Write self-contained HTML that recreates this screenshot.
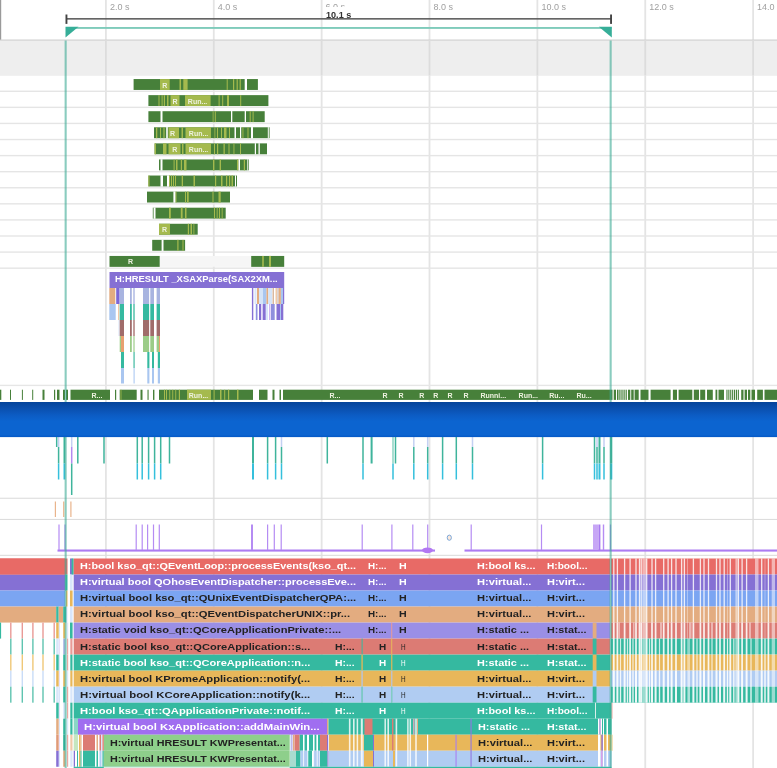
<!DOCTYPE html>
<html><head><meta charset="utf-8"><title>trace</title>
<style>
html,body{margin:0;padding:0;background:#fff}
#r{position:relative;width:777px;height:768px;overflow:hidden;background:#fff;font-family:"Liberation Sans",sans-serif}
#q{position:absolute;left:-12px;top:-12px;width:801px;height:792px;filter:blur(.7px)}
#p{position:absolute;left:12px;top:12px;width:777px;height:768px}
#q svg{position:absolute;left:-12px;top:-12px}
#r .t{position:absolute;display:block;white-space:pre;font-weight:700;overflow:visible}
#r .c{transform:translateX(-50%)}
</style></head><body><div id="r"><div id="q"><div id="p">
<svg width="801" height="792" viewBox="-12 -12 801 792"><defs><linearGradient id="bg" x1="0" y1="0" x2="0" y2="1"><stop offset="0" stop-color="#04439a"/><stop offset=".18" stop-color="#0a4fae"/><stop offset=".38" stop-color="#0c5cc4"/><stop offset=".55" stop-color="#0c64d0"/><stop offset=".93" stop-color="#0c64d0"/><stop offset="1" stop-color="#0458c6"/></linearGradient></defs>
<rect x="105.00" y="-12.00" width="1.80" height="792.00" fill="#e4e4e4"/>
<rect x="212.87" y="-12.00" width="1.80" height="792.00" fill="#e4e4e4"/>
<rect x="320.74" y="-12.00" width="1.80" height="792.00" fill="#e4e4e4"/>
<rect x="428.61" y="-12.00" width="1.80" height="792.00" fill="#e4e4e4"/>
<rect x="536.48" y="-12.00" width="1.80" height="792.00" fill="#e4e4e4"/>
<rect x="644.35" y="-12.00" width="1.80" height="792.00" fill="#e4e4e4"/>
<rect x="752.22" y="-12.00" width="1.80" height="792.00" fill="#e4e4e4"/>
<rect x="-12.00" y="-12.00" width="13.20" height="52.00" fill="#9a9a9a"/>
<rect x="66.00" y="18.10" width="545.50" height="1.50" fill="#555"/>
<rect x="65.50" y="14.50" width="1.90" height="9.40" fill="#444"/>
<rect x="610.10" y="14.50" width="1.90" height="9.40" fill="#444"/>
<rect x="66.00" y="27.00" width="545.50" height="1.90" fill="#7fcbbb"/>
<path d="M65.5 26.8H78.5L65.5 37.6Z" fill="#36ae98"/><path d="M611.8 26.8H598.8L611.8 37.6Z" fill="#36ae98"/>
<rect x="-12.00" y="40.00" width="801.00" height="35.80" fill="#eeeeee"/>
<rect x="-12.00" y="39.50" width="801.00" height="1.10" fill="#d0d0d0"/>
<rect x="105.00" y="40.00" width="1.80" height="35.50" fill="#dcdcdc"/>
<rect x="212.87" y="40.00" width="1.80" height="35.50" fill="#dcdcdc"/>
<rect x="320.74" y="40.00" width="1.80" height="35.50" fill="#dcdcdc"/>
<rect x="428.61" y="40.00" width="1.80" height="35.50" fill="#dcdcdc"/>
<rect x="536.48" y="40.00" width="1.80" height="35.50" fill="#dcdcdc"/>
<rect x="644.35" y="40.00" width="1.80" height="35.50" fill="#dcdcdc"/>
<rect x="752.22" y="40.00" width="1.80" height="35.50" fill="#dcdcdc"/>
<rect x="-12.00" y="90.58" width="801.00" height="1.40" fill="#e5e5e5"/>
<rect x="-12.00" y="106.66" width="801.00" height="1.40" fill="#e5e5e5"/>
<rect x="-12.00" y="122.74" width="801.00" height="1.40" fill="#e5e5e5"/>
<rect x="-12.00" y="138.82" width="801.00" height="1.40" fill="#e5e5e5"/>
<rect x="-12.00" y="154.90" width="801.00" height="1.40" fill="#e5e5e5"/>
<rect x="-12.00" y="170.98" width="801.00" height="1.40" fill="#e5e5e5"/>
<rect x="-12.00" y="187.06" width="801.00" height="1.40" fill="#e5e5e5"/>
<rect x="-12.00" y="203.14" width="801.00" height="1.40" fill="#e5e5e5"/>
<rect x="-12.00" y="219.22" width="801.00" height="1.40" fill="#e5e5e5"/>
<rect x="-12.00" y="235.30" width="801.00" height="1.40" fill="#e5e5e5"/>
<rect x="-12.00" y="251.38" width="801.00" height="1.40" fill="#e5e5e5"/>
<rect x="-12.00" y="267.46" width="801.00" height="1.40" fill="#e5e5e5"/>
<rect x="-12.00" y="384.70" width="801.00" height="1.40" fill="#e6e6e6"/>
<rect x="133.60" y="79.05" width="124.30" height="10.90" fill="#47803a"/>
<rect x="160.00" y="79.05" width="9.70" height="10.90" fill="#a5ba4e"/>
<rect x="179.50" y="79.05" width="1.50" height="10.90" fill="#a5ba4e"/>
<rect x="183.30" y="79.05" width="4.30" height="10.90" fill="#a5ba4e"/>
<rect x="226.70" y="79.05" width="1.00" height="10.90" fill="#a5ba4e"/>
<rect x="233.00" y="79.05" width="1.20" height="10.90" fill="#a5ba4e"/>
<rect x="236.60" y="79.05" width="1.20" height="10.90" fill="#a5ba4e"/>
<rect x="239.60" y="79.05" width="1.20" height="10.90" fill="#a5ba4e"/>
<rect x="244.70" y="78.85" width="2.30" height="11.30" fill="#ffffff"/>
<rect x="148.40" y="95.13" width="120.00" height="10.90" fill="#47803a"/>
<rect x="158.50" y="95.13" width="1.00" height="10.90" fill="#a5ba4e"/>
<rect x="161.60" y="95.13" width="1.00" height="10.90" fill="#a5ba4e"/>
<rect x="163.80" y="95.13" width="1.20" height="10.90" fill="#a5ba4e"/>
<rect x="167.00" y="95.13" width="1.50" height="10.90" fill="#a5ba4e"/>
<rect x="170.50" y="95.13" width="9.00" height="10.90" fill="#a5ba4e"/>
<rect x="185.00" y="95.13" width="25.60" height="10.90" fill="#a5ba4e"/>
<rect x="218.60" y="95.13" width="1.00" height="10.90" fill="#a5ba4e"/>
<rect x="222.20" y="95.13" width="1.00" height="10.90" fill="#a5ba4e"/>
<rect x="227.00" y="95.13" width="2.00" height="10.90" fill="#a5ba4e"/>
<rect x="240.20" y="95.13" width="1.00" height="10.90" fill="#a5ba4e"/>
<rect x="148.40" y="111.21" width="116.30" height="10.90" fill="#47803a"/>
<rect x="212.70" y="111.21" width="0.80" height="10.90" fill="#a5ba4e"/>
<rect x="214.80" y="111.21" width="1.00" height="10.90" fill="#a5ba4e"/>
<rect x="249.70" y="111.21" width="1.00" height="10.90" fill="#a5ba4e"/>
<rect x="252.60" y="111.21" width="1.00" height="10.90" fill="#a5ba4e"/>
<rect x="160.50" y="111.01" width="2.00" height="11.30" fill="#ffffff"/>
<rect x="231.00" y="111.01" width="1.30" height="11.30" fill="#ffffff"/>
<rect x="244.70" y="111.01" width="1.30" height="11.30" fill="#ffffff"/>
<rect x="154.00" y="127.29" width="115.60" height="10.90" fill="#47803a"/>
<rect x="156.00" y="127.29" width="1.30" height="10.90" fill="#a5ba4e"/>
<rect x="160.00" y="127.29" width="1.00" height="10.90" fill="#a5ba4e"/>
<rect x="163.40" y="127.29" width="1.20" height="10.90" fill="#a5ba4e"/>
<rect x="168.50" y="127.29" width="10.50" height="10.90" fill="#a5ba4e"/>
<rect x="181.50" y="127.29" width="1.50" height="10.90" fill="#a5ba4e"/>
<rect x="185.50" y="127.29" width="25.50" height="10.90" fill="#a5ba4e"/>
<rect x="214.50" y="127.29" width="0.80" height="10.90" fill="#a5ba4e"/>
<rect x="217.00" y="127.29" width="1.00" height="10.90" fill="#a5ba4e"/>
<rect x="221.00" y="127.29" width="1.00" height="10.90" fill="#a5ba4e"/>
<rect x="224.00" y="127.29" width="2.50" height="10.90" fill="#a5ba4e"/>
<rect x="229.00" y="127.29" width="1.00" height="10.90" fill="#a5ba4e"/>
<rect x="242.50" y="127.29" width="0.90" height="10.90" fill="#a5ba4e"/>
<rect x="247.50" y="127.29" width="1.00" height="10.90" fill="#a5ba4e"/>
<rect x="166.20" y="127.09" width="1.60" height="11.30" fill="#ffffff"/>
<rect x="234.50" y="127.09" width="1.50" height="11.30" fill="#ffffff"/>
<rect x="240.00" y="127.09" width="1.20" height="11.30" fill="#ffffff"/>
<rect x="251.00" y="127.09" width="2.00" height="11.30" fill="#ffffff"/>
<rect x="267.80" y="127.09" width="1.00" height="11.30" fill="#ffffff"/>
<rect x="154.60" y="143.37" width="112.40" height="10.90" fill="#47803a"/>
<rect x="154.60" y="143.37" width="1.40" height="10.90" fill="#a5ba4e"/>
<rect x="163.00" y="143.37" width="3.50" height="10.90" fill="#a5ba4e"/>
<rect x="168.50" y="143.37" width="12.00" height="10.90" fill="#a5ba4e"/>
<rect x="182.00" y="143.37" width="1.50" height="10.90" fill="#a5ba4e"/>
<rect x="185.50" y="143.37" width="25.50" height="10.90" fill="#a5ba4e"/>
<rect x="214.00" y="143.37" width="1.00" height="10.90" fill="#a5ba4e"/>
<rect x="217.00" y="143.37" width="1.20" height="10.90" fill="#a5ba4e"/>
<rect x="223.50" y="143.37" width="1.30" height="10.90" fill="#a5ba4e"/>
<rect x="228.50" y="143.37" width="1.00" height="10.90" fill="#a5ba4e"/>
<rect x="233.50" y="143.37" width="0.90" height="10.90" fill="#a5ba4e"/>
<rect x="240.00" y="143.37" width="1.00" height="10.90" fill="#a5ba4e"/>
<rect x="254.80" y="143.17" width="1.20" height="11.30" fill="#ffffff"/>
<rect x="258.50" y="143.17" width="1.30" height="11.30" fill="#ffffff"/>
<rect x="159.00" y="159.45" width="89.70" height="10.90" fill="#47803a"/>
<rect x="173.60" y="159.45" width="1.00" height="10.90" fill="#a5ba4e"/>
<rect x="176.00" y="159.45" width="1.50" height="10.90" fill="#a5ba4e"/>
<rect x="180.80" y="159.45" width="1.20" height="10.90" fill="#a5ba4e"/>
<rect x="184.00" y="159.45" width="2.50" height="10.90" fill="#a5ba4e"/>
<rect x="213.00" y="159.45" width="1.40" height="10.90" fill="#a5ba4e"/>
<rect x="219.60" y="159.45" width="1.40" height="10.90" fill="#a5ba4e"/>
<rect x="237.00" y="159.45" width="1.50" height="10.90" fill="#a5ba4e"/>
<rect x="243.80" y="159.45" width="1.20" height="10.90" fill="#a5ba4e"/>
<rect x="160.50" y="159.25" width="2.00" height="11.30" fill="#ffffff"/>
<rect x="238.50" y="159.25" width="1.50" height="11.30" fill="#ffffff"/>
<rect x="247.30" y="159.25" width="0.70" height="11.30" fill="#ffffff"/>
<rect x="148.40" y="175.53" width="88.60" height="10.90" fill="#47803a"/>
<rect x="148.40" y="175.53" width="1.10" height="10.90" fill="#a5ba4e"/>
<rect x="181.70" y="175.53" width="1.30" height="10.90" fill="#a5ba4e"/>
<rect x="193.50" y="175.53" width="1.50" height="10.90" fill="#a5ba4e"/>
<rect x="215.00" y="175.53" width="1.20" height="10.90" fill="#a5ba4e"/>
<rect x="221.00" y="175.53" width="1.50" height="10.90" fill="#a5ba4e"/>
<rect x="226.00" y="175.53" width="1.20" height="10.90" fill="#a5ba4e"/>
<rect x="229.00" y="175.53" width="1.20" height="10.90" fill="#a5ba4e"/>
<rect x="231.50" y="175.53" width="1.50" height="10.90" fill="#a5ba4e"/>
<rect x="169.00" y="175.53" width="1.00" height="10.90" fill="#a5ba4e"/>
<rect x="171.00" y="175.53" width="1.00" height="10.90" fill="#a5ba4e"/>
<rect x="173.00" y="175.53" width="1.00" height="10.90" fill="#a5ba4e"/>
<rect x="175.00" y="175.53" width="1.00" height="10.90" fill="#a5ba4e"/>
<rect x="160.50" y="175.33" width="2.50" height="11.30" fill="#ffffff"/>
<rect x="167.00" y="175.33" width="2.00" height="11.30" fill="#ffffff"/>
<rect x="235.00" y="175.33" width="1.00" height="11.30" fill="#ffffff"/>
<rect x="147.00" y="191.61" width="83.00" height="10.90" fill="#47803a"/>
<rect x="175.40" y="191.61" width="1.10" height="10.90" fill="#a5ba4e"/>
<rect x="185.00" y="191.61" width="1.00" height="10.90" fill="#a5ba4e"/>
<rect x="187.00" y="191.61" width="1.70" height="10.90" fill="#a5ba4e"/>
<rect x="212.50" y="191.61" width="1.00" height="10.90" fill="#a5ba4e"/>
<rect x="218.50" y="191.61" width="2.20" height="10.90" fill="#a5ba4e"/>
<rect x="173.40" y="191.41" width="2.00" height="11.30" fill="#ffffff"/>
<rect x="152.80" y="207.69" width="72.90" height="10.90" fill="#47803a"/>
<rect x="169.00" y="207.69" width="1.80" height="10.90" fill="#a5ba4e"/>
<rect x="180.80" y="207.69" width="1.80" height="10.90" fill="#a5ba4e"/>
<rect x="185.00" y="207.69" width="1.50" height="10.90" fill="#a5ba4e"/>
<rect x="214.00" y="207.69" width="1.00" height="10.90" fill="#a5ba4e"/>
<rect x="216.70" y="207.69" width="0.90" height="10.90" fill="#a5ba4e"/>
<rect x="219.00" y="207.69" width="1.00" height="10.90" fill="#a5ba4e"/>
<rect x="221.70" y="207.69" width="0.90" height="10.90" fill="#a5ba4e"/>
<rect x="153.60" y="207.49" width="1.90" height="11.30" fill="#ffffff"/>
<rect x="159.00" y="223.77" width="38.70" height="10.90" fill="#47803a"/>
<rect x="159.00" y="223.77" width="11.00" height="10.90" fill="#a5ba4e"/>
<rect x="187.80" y="223.77" width="1.20" height="10.90" fill="#a5ba4e"/>
<rect x="190.50" y="223.77" width="1.50" height="10.90" fill="#a5ba4e"/>
<rect x="193.50" y="223.77" width="0.80" height="10.90" fill="#a5ba4e"/>
<rect x="152.20" y="239.85" width="32.90" height="10.90" fill="#47803a"/>
<rect x="177.30" y="239.85" width="1.20" height="10.90" fill="#a5ba4e"/>
<rect x="182.50" y="239.85" width="1.00" height="10.90" fill="#a5ba4e"/>
<rect x="161.60" y="239.65" width="1.90" height="11.30" fill="#ffffff"/>
<rect x="159.70" y="256.00" width="91.50" height="10.80" fill="#f6f6f6"/>
<rect x="109.50" y="255.95" width="50.20" height="10.90" fill="#47803a"/>
<rect x="251.20" y="255.95" width="33.00" height="10.90" fill="#47803a"/>
<rect x="262.20" y="255.95" width="1.60" height="10.90" fill="#a5ba4e"/>
<rect x="269.00" y="255.95" width="2.00" height="10.90" fill="#a5ba4e"/>
<rect x="109.50" y="272.00" width="174.70" height="16.00" fill="#8570d4"/>
<rect x="109.30" y="288.00" width="6.00" height="16.00" fill="#e3ac80"/>
<rect x="116.20" y="288.00" width="3.40" height="16.00" fill="#7b66d6"/>
<rect x="119.70" y="288.00" width="4.30" height="16.00" fill="#a8b4e0"/>
<rect x="130.00" y="288.00" width="1.80" height="16.00" fill="#a8b4e0"/>
<rect x="133.00" y="288.00" width="2.00" height="16.00" fill="#c3cbea"/>
<rect x="143.00" y="288.00" width="6.10" height="16.00" fill="#a8b4e0"/>
<rect x="150.30" y="288.00" width="3.70" height="16.00" fill="#a8b4e0"/>
<rect x="156.60" y="288.00" width="3.40" height="16.00" fill="#a8b4e0"/>
<rect x="109.30" y="304.00" width="6.40" height="16.00" fill="#a9c6f0"/>
<rect x="118.00" y="304.00" width="1.20" height="16.00" fill="#f0c9a8"/>
<rect x="119.70" y="304.00" width="4.30" height="16.00" fill="#35b9a0"/>
<rect x="130.00" y="304.00" width="1.80" height="16.00" fill="#35b9a0"/>
<rect x="133.00" y="304.00" width="2.00" height="16.00" fill="#7fd0c0"/>
<rect x="143.00" y="304.00" width="6.10" height="16.00" fill="#35b9a0"/>
<rect x="150.30" y="304.00" width="3.70" height="16.00" fill="#35b9a0"/>
<rect x="156.60" y="304.00" width="3.40" height="16.00" fill="#35b9a0"/>
<rect x="118.50" y="320.00" width="1.00" height="16.00" fill="#d9e6fa"/>
<rect x="119.70" y="320.00" width="4.30" height="16.00" fill="#a06c6a"/>
<rect x="130.00" y="320.00" width="1.80" height="16.00" fill="#a06c6a"/>
<rect x="133.00" y="320.00" width="2.00" height="16.00" fill="#c29c9a"/>
<rect x="143.00" y="320.00" width="6.10" height="16.00" fill="#a06c6a"/>
<rect x="150.30" y="320.00" width="3.70" height="16.00" fill="#a06c6a"/>
<rect x="156.60" y="320.00" width="3.40" height="16.00" fill="#a06c6a"/>
<rect x="119.70" y="336.00" width="1.30" height="16.00" fill="#9ccc88"/>
<rect x="121.00" y="336.00" width="3.00" height="16.00" fill="#e8a070"/>
<rect x="130.00" y="336.00" width="1.80" height="16.00" fill="#9ccc88"/>
<rect x="133.00" y="336.00" width="2.00" height="16.00" fill="#c4e0b8"/>
<rect x="143.00" y="336.00" width="6.10" height="16.00" fill="#9ccc88"/>
<rect x="150.30" y="336.00" width="3.70" height="16.00" fill="#9ccc88"/>
<rect x="156.60" y="336.00" width="2.40" height="16.00" fill="#9ccc88"/>
<rect x="159.00" y="336.00" width="1.00" height="16.00" fill="#e8a070"/>
<rect x="121.00" y="352.00" width="3.00" height="16.00" fill="#35b9a0"/>
<rect x="133.20" y="352.00" width="1.80" height="16.00" fill="#7fd0c0"/>
<rect x="147.30" y="352.00" width="2.10" height="16.00" fill="#35b9a0"/>
<rect x="152.00" y="352.00" width="2.00" height="16.00" fill="#35b9a0"/>
<rect x="157.80" y="352.00" width="2.20" height="16.00" fill="#35b9a0"/>
<rect x="121.00" y="368.00" width="3.00" height="15.50" fill="#a9c6f0"/>
<rect x="133.30" y="368.00" width="1.70" height="15.50" fill="#c9dcf7"/>
<rect x="147.30" y="368.00" width="2.10" height="15.50" fill="#a9c6f0"/>
<rect x="152.00" y="368.00" width="2.00" height="15.50" fill="#a9c6f0"/>
<rect x="157.80" y="368.00" width="2.20" height="15.50" fill="#a9c6f0"/>
<rect x="251.90" y="288.00" width="1.40" height="16.00" fill="#8570d4"/>
<rect x="254.50" y="288.00" width="2.00" height="16.00" fill="#d9e6fa"/>
<rect x="257.00" y="288.00" width="2.00" height="16.00" fill="#e3ac80"/>
<rect x="259.00" y="288.00" width="4.00" height="16.00" fill="#d5e4f8"/>
<rect x="263.00" y="288.00" width="3.50" height="16.00" fill="#a9c6f0"/>
<rect x="266.50" y="288.00" width="1.80" height="16.00" fill="#e3ac80"/>
<rect x="268.30" y="288.00" width="3.70" height="16.00" fill="#d5e4f8"/>
<rect x="272.50" y="288.00" width="1.50" height="16.00" fill="#d8b8a0"/>
<rect x="275.50" y="288.00" width="1.90" height="16.00" fill="#f0c9a8"/>
<rect x="277.40" y="288.00" width="1.20" height="16.00" fill="#c8c8d0"/>
<rect x="278.60" y="288.00" width="2.30" height="16.00" fill="#e3ac80"/>
<rect x="280.90" y="288.00" width="2.10" height="16.00" fill="#a9c6f0"/>
<rect x="283.00" y="288.00" width="1.20" height="16.00" fill="#8570d4"/>
<rect x="251.90" y="304.00" width="1.40" height="16.00" fill="#8570d4"/>
<rect x="255.30" y="304.00" width="0.70" height="16.00" fill="#d9e6fa"/>
<rect x="256.00" y="304.00" width="1.50" height="16.00" fill="#8f8fe0"/>
<rect x="259.00" y="304.00" width="2.00" height="16.00" fill="#8570d4"/>
<rect x="261.00" y="304.00" width="1.80" height="16.00" fill="#e4dcf8"/>
<rect x="262.80" y="304.00" width="2.90" height="16.00" fill="#8570d4"/>
<rect x="266.00" y="304.00" width="2.00" height="16.00" fill="#d9e6fa"/>
<rect x="269.00" y="304.00" width="1.50" height="16.00" fill="#cdb6f5"/>
<rect x="271.00" y="304.00" width="3.70" height="16.00" fill="#8f8fdd"/>
<rect x="276.50" y="304.00" width="3.50" height="16.00" fill="#8570d4"/>
<rect x="280.00" y="304.00" width="1.00" height="16.00" fill="#a9c6f0"/>
<rect x="281.00" y="304.00" width="2.30" height="16.00" fill="#8570d4"/>
<rect x="-12.00" y="389.70" width="13.30" height="10.20" fill="#47803a"/>
<rect x="10.00" y="389.70" width="1.00" height="10.20" fill="#47803a"/>
<rect x="21.90" y="389.70" width="1.00" height="10.20" fill="#47803a"/>
<rect x="32.20" y="389.70" width="1.00" height="10.20" fill="#47803a"/>
<rect x="42.50" y="389.70" width="2.00" height="10.20" fill="#47803a"/>
<rect x="54.00" y="389.70" width="1.20" height="10.20" fill="#47803a"/>
<rect x="57.00" y="389.70" width="2.50" height="10.20" fill="#47803a"/>
<rect x="63.00" y="389.70" width="2.00" height="10.20" fill="#47803a"/>
<rect x="66.00" y="389.70" width="2.00" height="10.20" fill="#47803a"/>
<rect x="70.50" y="389.70" width="39.50" height="10.20" fill="#47803a"/>
<rect x="115.00" y="389.70" width="1.20" height="10.20" fill="#47803a"/>
<rect x="119.70" y="389.70" width="17.00" height="10.20" fill="#47803a"/>
<rect x="140.50" y="389.70" width="2.00" height="10.20" fill="#47803a"/>
<rect x="147.50" y="389.70" width="1.10" height="10.20" fill="#47803a"/>
<rect x="153.00" y="389.70" width="1.40" height="10.20" fill="#47803a"/>
<rect x="159.00" y="389.70" width="94.00" height="10.20" fill="#47803a"/>
<rect x="259.00" y="389.70" width="8.50" height="10.20" fill="#47803a"/>
<rect x="272.50" y="389.70" width="2.00" height="10.20" fill="#47803a"/>
<rect x="279.50" y="389.70" width="1.50" height="10.20" fill="#47803a"/>
<rect x="283.00" y="389.70" width="329.50" height="10.20" fill="#47803a"/>
<rect x="120.60" y="389.70" width="0.80" height="10.20" fill="#a5ba4e"/>
<rect x="164.00" y="389.70" width="1.00" height="10.20" fill="#a5ba4e"/>
<rect x="166.00" y="389.70" width="1.00" height="10.20" fill="#a5ba4e"/>
<rect x="169.30" y="389.70" width="0.90" height="10.20" fill="#a5ba4e"/>
<rect x="172.30" y="389.70" width="0.90" height="10.20" fill="#a5ba4e"/>
<rect x="175.30" y="389.70" width="0.90" height="10.20" fill="#a5ba4e"/>
<rect x="178.80" y="389.70" width="1.20" height="10.20" fill="#a5ba4e"/>
<rect x="187.00" y="389.70" width="24.00" height="10.20" fill="#a5ba4e"/>
<rect x="213.60" y="389.70" width="1.00" height="10.20" fill="#a5ba4e"/>
<rect x="220.00" y="389.70" width="1.50" height="10.20" fill="#a5ba4e"/>
<rect x="224.20" y="389.70" width="1.00" height="10.20" fill="#a5ba4e"/>
<rect x="228.00" y="389.70" width="1.20" height="10.20" fill="#a5ba4e"/>
<rect x="237.00" y="389.70" width="1.50" height="10.20" fill="#a5ba4e"/>
<rect x="613.70" y="389.70" width="2.30" height="10.20" fill="#47803a"/>
<rect x="617.00" y="389.70" width="1.20" height="10.20" fill="#47803a"/>
<rect x="618.60" y="389.70" width="1.10" height="10.20" fill="#47803a"/>
<rect x="620.50" y="389.70" width="1.10" height="10.20" fill="#47803a"/>
<rect x="622.40" y="389.70" width="1.10" height="10.20" fill="#47803a"/>
<rect x="624.30" y="389.70" width="1.10" height="10.20" fill="#47803a"/>
<rect x="626.20" y="389.70" width="0.80" height="10.20" fill="#47803a"/>
<rect x="628.00" y="389.70" width="2.30" height="10.20" fill="#47803a"/>
<rect x="631.20" y="389.70" width="2.50" height="10.20" fill="#47803a"/>
<rect x="634.60" y="389.70" width="4.10" height="10.20" fill="#47803a"/>
<rect x="640.50" y="389.70" width="8.00" height="10.20" fill="#47803a"/>
<rect x="650.60" y="389.70" width="20.00" height="10.20" fill="#47803a"/>
<rect x="672.90" y="389.70" width="4.10" height="10.20" fill="#47803a"/>
<rect x="678.60" y="389.70" width="13.70" height="10.20" fill="#47803a"/>
<rect x="693.80" y="389.70" width="5.20" height="10.20" fill="#47803a"/>
<rect x="700.20" y="389.70" width="5.00" height="10.20" fill="#47803a"/>
<rect x="707.00" y="389.70" width="5.80" height="10.20" fill="#47803a"/>
<rect x="715.50" y="389.70" width="1.80" height="10.20" fill="#47803a"/>
<rect x="718.50" y="389.70" width="5.50" height="10.20" fill="#47803a"/>
<rect x="726.40" y="389.70" width="1.10" height="10.20" fill="#47803a"/>
<rect x="728.30" y="389.70" width="1.10" height="10.20" fill="#47803a"/>
<rect x="730.20" y="389.70" width="1.10" height="10.20" fill="#47803a"/>
<rect x="732.10" y="389.70" width="1.10" height="10.20" fill="#47803a"/>
<rect x="734.00" y="389.70" width="1.10" height="10.20" fill="#47803a"/>
<rect x="735.90" y="389.70" width="1.10" height="10.20" fill="#47803a"/>
<rect x="737.80" y="389.70" width="1.10" height="10.20" fill="#47803a"/>
<rect x="741.20" y="389.70" width="2.30" height="10.20" fill="#47803a"/>
<rect x="744.60" y="389.70" width="2.40" height="10.20" fill="#47803a"/>
<rect x="748.00" y="389.70" width="2.30" height="10.20" fill="#47803a"/>
<rect x="751.50" y="389.70" width="3.50" height="10.20" fill="#47803a"/>
<rect x="757.20" y="389.70" width="5.70" height="10.20" fill="#47803a"/>
<rect x="764.50" y="389.70" width="24.50" height="10.20" fill="#47803a"/>
<rect x="-12.00" y="497.70" width="801.00" height="1.10" fill="#dddddd"/>
<rect x="-12.00" y="518.90" width="801.00" height="1.10" fill="#dddddd"/>
<rect x="-12.00" y="554.80" width="801.00" height="1.10" fill="#dddddd"/>
<rect x="55.95" y="437.00" width="1.50" height="10.00" fill="#3fb49c"/>
<rect x="57.85" y="437.00" width="1.50" height="10.00" fill="#c4d0f2"/>
<rect x="57.85" y="447.00" width="1.50" height="16.50" fill="#3fb49c"/>
<rect x="57.85" y="463.50" width="1.50" height="16.00" fill="#35c0dc"/>
<rect x="63.50" y="437.00" width="1.80" height="26.50" fill="#3fb49c"/>
<rect x="63.50" y="463.50" width="1.80" height="16.00" fill="#35c0dc"/>
<rect x="70.95" y="437.00" width="1.50" height="10.00" fill="#c4d0f2"/>
<rect x="70.95" y="447.00" width="1.50" height="16.50" fill="#b48af0"/>
<rect x="70.95" y="463.50" width="1.50" height="31.50" fill="#3fb49c"/>
<rect x="77.05" y="437.00" width="1.50" height="26.50" fill="#3fb49c"/>
<rect x="103.25" y="437.00" width="1.50" height="26.50" fill="#3fb49c"/>
<rect x="136.55" y="437.00" width="1.50" height="26.50" fill="#3fb49c"/>
<rect x="136.55" y="463.50" width="1.50" height="16.00" fill="#35c0dc"/>
<rect x="141.45" y="437.00" width="1.50" height="26.50" fill="#3fb49c"/>
<rect x="141.45" y="463.50" width="1.50" height="16.00" fill="#35c0dc"/>
<rect x="147.85" y="437.00" width="1.50" height="26.50" fill="#3fb49c"/>
<rect x="147.85" y="463.50" width="1.50" height="16.00" fill="#35c0dc"/>
<rect x="153.85" y="437.00" width="1.50" height="26.50" fill="#3fb49c"/>
<rect x="153.85" y="463.50" width="1.50" height="16.00" fill="#35c0dc"/>
<rect x="159.95" y="437.00" width="1.50" height="26.50" fill="#3fb49c"/>
<rect x="159.95" y="463.50" width="1.50" height="16.00" fill="#35c0dc"/>
<rect x="168.75" y="437.00" width="1.50" height="26.50" fill="#3fb49c"/>
<rect x="252.00" y="437.00" width="2.00" height="26.50" fill="#3fb49c"/>
<rect x="252.00" y="463.50" width="2.00" height="16.00" fill="#35c0dc"/>
<rect x="266.85" y="437.00" width="1.50" height="26.50" fill="#3fb49c"/>
<rect x="266.85" y="463.50" width="1.50" height="16.00" fill="#35c0dc"/>
<rect x="274.85" y="437.00" width="1.50" height="26.50" fill="#3fb49c"/>
<rect x="274.85" y="463.50" width="1.50" height="16.00" fill="#35c0dc"/>
<rect x="280.75" y="437.00" width="1.50" height="10.00" fill="#c4d0f2"/>
<rect x="280.75" y="447.00" width="1.50" height="16.50" fill="#3fb49c"/>
<rect x="280.75" y="463.50" width="1.50" height="16.00" fill="#35c0dc"/>
<rect x="326.55" y="437.00" width="1.50" height="26.50" fill="#3fb49c"/>
<rect x="362.25" y="437.00" width="1.50" height="26.50" fill="#3fb49c"/>
<rect x="362.25" y="463.50" width="1.50" height="16.00" fill="#35c0dc"/>
<rect x="370.60" y="437.00" width="2.00" height="26.50" fill="#3fb49c"/>
<rect x="392.25" y="437.00" width="1.50" height="26.50" fill="#8fd3c3"/>
<rect x="392.25" y="463.50" width="1.50" height="16.00" fill="#35c0dc"/>
<rect x="394.75" y="437.00" width="1.50" height="26.50" fill="#3fb49c"/>
<rect x="413.05" y="437.00" width="1.50" height="10.00" fill="#c4d0f2"/>
<rect x="413.05" y="447.00" width="1.50" height="16.50" fill="#3fb49c"/>
<rect x="413.05" y="463.50" width="1.50" height="16.00" fill="#35c0dc"/>
<rect x="426.95" y="437.00" width="1.50" height="10.00" fill="#c4d0f2"/>
<rect x="426.95" y="447.00" width="1.50" height="16.50" fill="#3fb49c"/>
<rect x="426.95" y="463.50" width="1.50" height="16.00" fill="#35c0dc"/>
<rect x="441.85" y="437.00" width="1.50" height="26.50" fill="#3fb49c"/>
<rect x="441.85" y="463.50" width="1.50" height="16.00" fill="#35c0dc"/>
<rect x="455.55" y="437.00" width="1.50" height="26.50" fill="#3fb49c"/>
<rect x="455.55" y="463.50" width="1.50" height="16.00" fill="#35c0dc"/>
<rect x="471.75" y="437.00" width="1.50" height="10.00" fill="#c4d0f2"/>
<rect x="471.75" y="447.00" width="1.50" height="16.50" fill="#3fb49c"/>
<rect x="471.75" y="463.50" width="1.50" height="16.00" fill="#35c0dc"/>
<rect x="541.85" y="437.00" width="1.50" height="26.50" fill="#3fb49c"/>
<rect x="541.85" y="463.50" width="1.50" height="16.00" fill="#35c0dc"/>
<rect x="593.75" y="437.00" width="1.50" height="26.50" fill="#3fb49c"/>
<rect x="593.75" y="463.50" width="1.50" height="16.00" fill="#35c0dc"/>
<rect x="596.25" y="437.00" width="1.50" height="10.00" fill="#c4d0f2"/>
<rect x="596.25" y="447.00" width="1.50" height="16.50" fill="#3fb49c"/>
<rect x="596.25" y="463.50" width="1.50" height="16.00" fill="#35c0dc"/>
<rect x="598.50" y="437.00" width="2.00" height="26.50" fill="#3fb49c"/>
<rect x="598.50" y="463.50" width="2.00" height="16.00" fill="#35c0dc"/>
<rect x="603.25" y="437.00" width="1.50" height="10.00" fill="#c4d0f2"/>
<rect x="603.25" y="447.00" width="1.50" height="16.50" fill="#3fb49c"/>
<rect x="603.25" y="463.50" width="1.50" height="16.00" fill="#35c0dc"/>
<rect x="610.10" y="437.00" width="2.20" height="26.50" fill="#3fb49c"/>
<rect x="610.10" y="463.50" width="2.20" height="16.00" fill="#35c0dc"/>
<rect x="54.80" y="501.50" width="1.20" height="15.50" fill="#e9b48c"/>
<rect x="63.10" y="501.50" width="1.20" height="15.50" fill="#e9b48c"/>
<rect x="70.30" y="501.50" width="1.20" height="15.50" fill="#e9b48c"/>
<rect x="57.50" y="549.50" width="731.50" height="2.10" fill="#ac7cf2"/>
<rect x="58.40" y="524.50" width="1.20" height="25.50" fill="#b58cf3"/>
<rect x="64.40" y="524.50" width="1.20" height="25.50" fill="#b58cf3"/>
<rect x="135.60" y="524.50" width="1.20" height="25.50" fill="#b58cf3"/>
<rect x="141.60" y="524.50" width="1.20" height="25.50" fill="#b58cf3"/>
<rect x="147.00" y="524.50" width="1.20" height="25.50" fill="#b58cf3"/>
<rect x="152.90" y="524.50" width="1.20" height="25.50" fill="#b58cf3"/>
<rect x="158.70" y="524.50" width="1.20" height="25.50" fill="#b58cf3"/>
<rect x="251.00" y="524.50" width="2.00" height="25.50" fill="#b58cf3"/>
<rect x="267.00" y="524.50" width="1.20" height="25.50" fill="#b58cf3"/>
<rect x="273.70" y="524.50" width="1.20" height="25.50" fill="#b58cf3"/>
<rect x="280.60" y="524.50" width="1.20" height="25.50" fill="#b58cf3"/>
<rect x="361.60" y="524.50" width="1.20" height="25.50" fill="#b58cf3"/>
<rect x="391.30" y="524.50" width="1.20" height="25.50" fill="#b58cf3"/>
<rect x="412.20" y="524.50" width="1.20" height="25.50" fill="#b58cf3"/>
<rect x="427.10" y="524.50" width="1.20" height="25.50" fill="#b58cf3"/>
<rect x="470.60" y="524.50" width="1.20" height="25.50" fill="#b58cf3"/>
<rect x="540.90" y="524.50" width="1.20" height="25.50" fill="#b58cf3"/>
<rect x="602.80" y="524.50" width="1.40" height="25.50" fill="#b58cf3"/>
<rect x="609.90" y="524.50" width="1.20" height="25.50" fill="#b58cf3"/>
<rect x="593.00" y="524.50" width="5.60" height="25.50" fill="#c7a6f6"/>
<rect x="598.60" y="524.50" width="1.80" height="25.50" fill="#a87af0"/>
<rect x="435.00" y="520.50" width="29.50" height="33.00" fill="#ffffff"/>
<ellipse cx="427.5" cy="550.3" rx="5.5" ry="2.9" fill="#b277f2"/>
<ellipse cx="449.3" cy="537.7" rx="2.1" ry="2.6" fill="#fbe9dc" stroke="#6f9fd6" stroke-width="0.9"/>
<rect x="-12.00" y="558.50" width="77.20" height="16.02" fill="#e86a66"/>
<rect x="-12.00" y="574.52" width="77.20" height="16.02" fill="#8570d4"/>
<rect x="-12.00" y="590.54" width="77.20" height="16.02" fill="#7ba5f2"/>
<rect x="-12.00" y="558.50" width="79.50" height="16.02" fill="#e86a66"/>
<rect x="-12.00" y="606.56" width="68.20" height="16.02" fill="#e3ac80"/>
<rect x="56.20" y="606.56" width="2.50" height="16.02" fill="#35b9a0"/>
<rect x="58.70" y="606.56" width="4.50" height="16.02" fill="#e3ac80"/>
<rect x="63.20" y="606.56" width="2.80" height="16.02" fill="#35b9a0"/>
<rect x="66.00" y="606.56" width="1.50" height="16.02" fill="#d9e6fa"/>
<rect x="65.20" y="574.52" width="2.30" height="16.02" fill="#35b9a0"/>
<rect x="66.00" y="590.54" width="1.50" height="16.02" fill="#e8b75a"/>
<rect x="70.00" y="558.50" width="2.60" height="16.02" fill="#8570d4"/>
<rect x="70.00" y="574.52" width="2.60" height="16.02" fill="#d9e6fa"/>
<rect x="70.00" y="590.54" width="2.60" height="16.02" fill="#e8b75a"/>
<rect x="70.00" y="606.56" width="2.60" height="16.02" fill="#d9e6fa"/>
<rect x="70.00" y="622.58" width="2.60" height="16.02" fill="#35b9a0"/>
<rect x="71.60" y="558.50" width="2.10" height="16.02" fill="#35b9a0"/>
<rect x="10.10" y="622.58" width="1.40" height="16.02" fill="#e99a96"/>
<rect x="21.60" y="622.58" width="1.40" height="16.02" fill="#e99a96"/>
<rect x="32.20" y="622.58" width="1.40" height="16.02" fill="#e99a96"/>
<rect x="42.30" y="622.58" width="1.40" height="16.02" fill="#e99a96"/>
<rect x="53.50" y="622.58" width="1.40" height="16.02" fill="#e99a96"/>
<rect x="10.10" y="638.60" width="1.40" height="16.02" fill="#5fc4b0"/>
<rect x="21.60" y="638.60" width="1.40" height="16.02" fill="#5fc4b0"/>
<rect x="32.20" y="638.60" width="1.40" height="16.02" fill="#5fc4b0"/>
<rect x="42.30" y="638.60" width="1.40" height="16.02" fill="#5fc4b0"/>
<rect x="53.50" y="638.60" width="1.40" height="16.02" fill="#5fc4b0"/>
<rect x="10.10" y="654.62" width="1.40" height="16.02" fill="#efc878"/>
<rect x="21.60" y="654.62" width="1.40" height="16.02" fill="#efc878"/>
<rect x="32.20" y="654.62" width="1.40" height="16.02" fill="#efc878"/>
<rect x="42.30" y="654.62" width="1.40" height="16.02" fill="#efc878"/>
<rect x="53.50" y="654.62" width="1.40" height="16.02" fill="#efc878"/>
<rect x="10.10" y="670.64" width="1.40" height="16.02" fill="#c9dcf7"/>
<rect x="21.60" y="670.64" width="1.40" height="16.02" fill="#c9dcf7"/>
<rect x="32.20" y="670.64" width="1.40" height="16.02" fill="#c9dcf7"/>
<rect x="42.30" y="670.64" width="1.40" height="16.02" fill="#c9dcf7"/>
<rect x="53.50" y="670.64" width="1.40" height="16.02" fill="#c9dcf7"/>
<rect x="10.10" y="686.66" width="1.40" height="16.02" fill="#5fc4b0"/>
<rect x="21.60" y="686.66" width="1.40" height="16.02" fill="#5fc4b0"/>
<rect x="32.20" y="686.66" width="1.40" height="16.02" fill="#5fc4b0"/>
<rect x="42.30" y="686.66" width="1.40" height="16.02" fill="#5fc4b0"/>
<rect x="53.50" y="686.66" width="1.40" height="16.02" fill="#5fc4b0"/>
<rect x="-12.00" y="622.58" width="13.10" height="16.02" fill="#35b9a0"/>
<rect x="56.20" y="622.58" width="2.50" height="16.02" fill="#e8b75a"/>
<rect x="59.00" y="622.58" width="1.00" height="16.02" fill="#d9e6fa"/>
<rect x="63.20" y="622.58" width="2.10" height="16.02" fill="#e8b75a"/>
<rect x="67.00" y="622.58" width="1.20" height="16.02" fill="#d9e6fa"/>
<rect x="56.20" y="638.60" width="2.50" height="16.02" fill="#d9e6fa"/>
<rect x="59.00" y="638.60" width="1.00" height="16.02" fill="#e8e0fa"/>
<rect x="63.20" y="638.60" width="2.10" height="16.02" fill="#a8b4e0"/>
<rect x="67.00" y="638.60" width="1.20" height="16.02" fill="#eaa8a2"/>
<rect x="70.30" y="638.60" width="2.20" height="16.02" fill="#e99a96"/>
<rect x="56.20" y="654.62" width="2.50" height="16.02" fill="#35b9a0"/>
<rect x="59.00" y="654.62" width="1.00" height="16.02" fill="#d9e6fa"/>
<rect x="63.20" y="654.62" width="2.10" height="16.02" fill="#35b9a0"/>
<rect x="67.00" y="654.62" width="1.20" height="16.02" fill="#eaa8a2"/>
<rect x="70.30" y="654.62" width="2.20" height="16.02" fill="#35b9a0"/>
<rect x="56.20" y="670.64" width="2.50" height="16.02" fill="#e8b75a"/>
<rect x="59.00" y="670.64" width="1.00" height="16.02" fill="#e8e0fa"/>
<rect x="63.20" y="670.64" width="2.10" height="16.02" fill="#e8b75a"/>
<rect x="67.00" y="670.64" width="1.20" height="16.02" fill="#d9e6fa"/>
<rect x="70.30" y="670.64" width="2.20" height="16.02" fill="#e8b75a"/>
<rect x="56.20" y="686.66" width="2.50" height="16.02" fill="#d9e6fa"/>
<rect x="59.00" y="686.66" width="1.00" height="16.02" fill="#d9e6fa"/>
<rect x="63.20" y="686.66" width="2.10" height="16.02" fill="#35b9a0"/>
<rect x="67.00" y="686.66" width="1.20" height="16.02" fill="#eaa8a2"/>
<rect x="70.30" y="686.66" width="2.20" height="16.02" fill="#d9e6fa"/>
<rect x="56.20" y="702.68" width="2.50" height="16.02" fill="#35b9a0"/>
<rect x="59.00" y="702.68" width="1.00" height="16.02" fill="#e8e0fa"/>
<rect x="63.20" y="702.68" width="2.10" height="16.02" fill="#d9e6fa"/>
<rect x="67.00" y="702.68" width="1.20" height="16.02" fill="#eaa8a2"/>
<rect x="70.30" y="702.68" width="2.20" height="16.02" fill="#35b9a0"/>
<rect x="56.20" y="718.70" width="2.50" height="16.02" fill="#e3ac80"/>
<rect x="59.00" y="718.70" width="1.00" height="16.02" fill="#d9e6fa"/>
<rect x="63.20" y="718.70" width="2.10" height="16.02" fill="#35b9a0"/>
<rect x="67.00" y="718.70" width="1.20" height="16.02" fill="#d9e6fa"/>
<rect x="70.30" y="718.70" width="2.20" height="16.02" fill="#35b9a0"/>
<rect x="56.20" y="734.72" width="2.50" height="16.02" fill="#e09a78"/>
<rect x="59.00" y="734.72" width="1.00" height="16.02" fill="#e8e0fa"/>
<rect x="63.20" y="734.72" width="2.10" height="16.02" fill="#2fae96"/>
<rect x="67.00" y="734.72" width="1.20" height="16.02" fill="#eaa8a2"/>
<rect x="70.30" y="734.72" width="2.20" height="16.02" fill="#f0c9a8"/>
<rect x="56.20" y="750.74" width="2.50" height="16.02" fill="#8570d4"/>
<rect x="59.00" y="750.74" width="1.00" height="16.02" fill="#d9e6fa"/>
<rect x="63.20" y="750.74" width="2.10" height="16.02" fill="#e3ac80"/>
<rect x="67.00" y="750.74" width="1.20" height="16.02" fill="#eaa8a2"/>
<rect x="70.30" y="750.74" width="2.20" height="16.02" fill="#d9e6fa"/>
<rect x="73.70" y="558.50" width="536.30" height="16.02" fill="#e86a66"/>
<rect x="73.70" y="574.52" width="536.30" height="16.02" fill="#8570d4"/>
<rect x="73.70" y="590.54" width="536.30" height="16.02" fill="#7ba5f2"/>
<rect x="73.70" y="606.56" width="536.30" height="16.02" fill="#e3ac80"/>
<rect x="73.70" y="622.58" width="536.30" height="16.02" fill="#9a8fe6"/>
<rect x="73.70" y="638.60" width="536.30" height="16.02" fill="#dc7b74"/>
<rect x="73.70" y="654.62" width="536.30" height="16.02" fill="#35b9a0"/>
<rect x="73.70" y="670.64" width="536.30" height="16.02" fill="#e8b75a"/>
<rect x="73.70" y="686.66" width="536.30" height="16.02" fill="#b0ccf2"/>
<rect x="73.70" y="702.68" width="537.80" height="16.02" fill="#35b9a0"/>
<rect x="592.70" y="622.58" width="3.80" height="16.02" fill="#e3ac80"/>
<rect x="592.70" y="638.60" width="3.80" height="16.02" fill="#35b9a0"/>
<rect x="592.70" y="654.62" width="3.80" height="16.02" fill="#e8b75a"/>
<rect x="592.70" y="670.64" width="3.80" height="16.02" fill="#b0ccf2"/>
<rect x="592.70" y="686.66" width="3.80" height="16.02" fill="#35b9a0"/>
<rect x="595.00" y="702.68" width="1.00" height="16.02" fill="#d8f0ea"/>
<rect x="391.20" y="622.58" width="1.00" height="16.02" fill="#e89a9a"/>
<rect x="361.60" y="638.60" width="1.00" height="16.02" fill="#35b9a0"/>
<rect x="391.20" y="638.60" width="1.00" height="16.02" fill="#e8b75a"/>
<rect x="361.60" y="654.62" width="1.00" height="16.02" fill="#e8b75a"/>
<rect x="391.20" y="654.62" width="1.00" height="16.02" fill="#e8b75a"/>
<rect x="361.60" y="670.64" width="1.00" height="16.02" fill="#b0ccf2"/>
<rect x="391.20" y="670.64" width="1.00" height="16.02" fill="#b0ccf2"/>
<rect x="361.60" y="686.66" width="1.00" height="16.02" fill="#35b9a0"/>
<rect x="391.20" y="686.66" width="1.00" height="16.02" fill="#35b9a0"/>
<rect x="361.60" y="654.62" width="1.00" height="16.02" fill="#c8b860"/>
<rect x="391.20" y="654.62" width="1.00" height="16.02" fill="#c8b860"/>
<rect x="361.60" y="670.64" width="1.00" height="16.02" fill="#c0c0c8"/>
<rect x="391.20" y="670.64" width="1.00" height="16.02" fill="#c0c0c8"/>
<rect x="361.60" y="686.66" width="1.00" height="16.02" fill="#8fd0c8"/>
<rect x="391.20" y="686.66" width="1.00" height="16.02" fill="#8fd0c8"/>
<rect x="73.70" y="718.70" width="4.30" height="16.02" fill="#8ad6c6"/>
<rect x="78.00" y="718.70" width="249.00" height="16.02" fill="#a06ef0"/>
<rect x="327.00" y="718.70" width="1.50" height="16.02" fill="#e3ac80"/>
<rect x="328.50" y="718.70" width="283.00" height="16.02" fill="#35b9a0"/>
<rect x="73.70" y="734.72" width="4.30" height="16.02" fill="#c5e6c0"/>
<rect x="73.70" y="750.74" width="1.30" height="16.02" fill="#8570d4"/>
<rect x="77.00" y="750.74" width="1.00" height="16.02" fill="#35b9a0"/>
<rect x="79.00" y="734.72" width="1.50" height="16.02" fill="#e8b75a"/>
<rect x="80.50" y="734.72" width="1.00" height="16.02" fill="#e3ac80"/>
<rect x="83.00" y="734.72" width="12.00" height="16.02" fill="#dc7b74"/>
<rect x="96.50" y="734.72" width="1.50" height="16.02" fill="#e3ac80"/>
<rect x="99.50" y="734.72" width="1.50" height="16.02" fill="#dc7b74"/>
<rect x="101.00" y="734.72" width="1.50" height="16.02" fill="#d9e6fa"/>
<rect x="102.50" y="734.72" width="1.30" height="16.02" fill="#e86a66"/>
<rect x="103.80" y="734.72" width="185.90" height="16.02" fill="#8ecf8b"/>
<rect x="79.00" y="750.74" width="1.50" height="16.02" fill="#e8b75a"/>
<rect x="80.50" y="750.74" width="1.00" height="16.02" fill="#35b9a0"/>
<rect x="83.00" y="750.74" width="12.00" height="16.02" fill="#35b9a0"/>
<rect x="96.50" y="750.74" width="1.50" height="16.02" fill="#35b9a0"/>
<rect x="99.50" y="750.74" width="1.50" height="16.02" fill="#b0ccf2"/>
<rect x="101.00" y="750.74" width="1.50" height="16.02" fill="#d9e6fa"/>
<rect x="102.50" y="750.74" width="1.30" height="16.02" fill="#35b9a0"/>
<rect x="103.80" y="750.74" width="185.90" height="16.02" fill="#8ecf8b"/>
<rect x="290.00" y="734.72" width="1.00" height="16.02" fill="#d9e6fa"/>
<rect x="291.50" y="734.72" width="0.80" height="16.02" fill="#8570d4"/>
<rect x="293.00" y="734.72" width="1.30" height="16.02" fill="#e3ac80"/>
<rect x="294.50" y="734.72" width="5.20" height="16.02" fill="#dc7b74"/>
<rect x="299.70" y="734.72" width="3.30" height="16.02" fill="#35b9a0"/>
<rect x="304.50" y="734.72" width="2.50" height="16.02" fill="#35b9a0"/>
<rect x="309.00" y="734.72" width="4.00" height="16.02" fill="#35b9a0"/>
<rect x="314.50" y="734.72" width="2.00" height="16.02" fill="#35b9a0"/>
<rect x="318.00" y="734.72" width="2.00" height="16.02" fill="#35b9a0"/>
<rect x="320.00" y="734.72" width="7.00" height="16.02" fill="#dc7b74"/>
<rect x="327.00" y="734.72" width="1.20" height="16.02" fill="#8570d4"/>
<rect x="329.00" y="734.72" width="34.70" height="16.02" fill="#e8b75a"/>
<rect x="364.00" y="734.72" width="9.00" height="16.02" fill="#35b9a0"/>
<rect x="373.00" y="734.72" width="1.00" height="16.02" fill="#8570d4"/>
<rect x="374.00" y="734.72" width="237.50" height="16.02" fill="#e8b75a"/>
<rect x="392.00" y="734.72" width="1.40" height="16.02" fill="#dc7b74"/>
<rect x="290.00" y="750.74" width="6.00" height="16.02" fill="#a8dcd0"/>
<rect x="296.00" y="750.74" width="4.50" height="16.02" fill="#35b9a0"/>
<rect x="300.50" y="750.74" width="7.50" height="16.02" fill="#b0ccf2"/>
<rect x="308.00" y="750.74" width="4.00" height="16.02" fill="#35b9a0"/>
<rect x="313.50" y="750.74" width="6.00" height="16.02" fill="#b0ccf2"/>
<rect x="320.00" y="750.74" width="7.50" height="16.02" fill="#35b9a0"/>
<rect x="327.50" y="750.74" width="1.00" height="16.02" fill="#8570d4"/>
<rect x="329.00" y="750.74" width="34.70" height="16.02" fill="#b0ccf2"/>
<rect x="364.00" y="750.74" width="9.00" height="16.02" fill="#e8b75a"/>
<rect x="373.00" y="750.74" width="1.00" height="16.02" fill="#8570d4"/>
<rect x="374.00" y="750.74" width="237.50" height="16.02" fill="#b0ccf2"/>
<rect x="393.00" y="750.74" width="2.00" height="16.02" fill="#e8b75a"/>
<rect x="364.50" y="718.70" width="8.00" height="16.02" fill="#dc7b74"/>
<rect x="392.00" y="718.70" width="1.40" height="16.02" fill="#dc7b74"/>
<rect x="413.20" y="718.70" width="1.30" height="16.02" fill="#f0a8c0"/>
<rect x="417.00" y="718.70" width="1.00" height="16.02" fill="#e3ac80"/>
<rect x="348.90" y="718.70" width="1.60" height="48.06" fill="rgba(255,255,255,.82)"/>
<rect x="353.00" y="718.70" width="1.60" height="48.06" fill="rgba(255,255,255,.82)"/>
<rect x="356.65" y="718.70" width="1.50" height="48.06" fill="rgba(255,255,255,.82)"/>
<rect x="360.80" y="718.70" width="2.00" height="48.06" fill="rgba(255,255,255,.82)"/>
<rect x="384.45" y="718.70" width="1.50" height="48.06" fill="rgba(255,255,255,.82)"/>
<rect x="387.40" y="718.70" width="1.60" height="48.06" fill="rgba(255,255,255,.82)"/>
<rect x="395.60" y="718.70" width="1.60" height="48.06" fill="rgba(255,255,255,.82)"/>
<rect x="407.15" y="718.70" width="1.50" height="48.06" fill="rgba(255,255,255,.82)"/>
<rect x="409.55" y="718.70" width="1.50" height="48.06" fill="rgba(255,255,255,.82)"/>
<rect x="415.20" y="718.70" width="1.60" height="48.06" fill="rgba(255,255,255,.82)"/>
<rect x="303.10" y="734.72" width="1.00" height="32.04" fill="rgba(255,255,255,.8)"/>
<rect x="307.30" y="734.72" width="1.00" height="32.04" fill="rgba(255,255,255,.8)"/>
<rect x="313.10" y="734.72" width="1.00" height="32.04" fill="rgba(255,255,255,.8)"/>
<rect x="316.70" y="734.72" width="1.00" height="32.04" fill="rgba(255,255,255,.8)"/>
<rect x="427.00" y="734.72" width="1.20" height="32.04" fill="#ffffff"/>
<rect x="455.50" y="734.72" width="1.10" height="32.04" fill="#a880f0"/>
<rect x="470.50" y="718.70" width="1.10" height="48.06" fill="#8f78e0"/>
<rect x="598.00" y="718.70" width="1.30" height="16.02" fill="#ffffff"/>
<rect x="599.30" y="718.70" width="1.50" height="16.02" fill="#d9a0e8"/>
<rect x="600.80" y="718.70" width="1.20" height="16.02" fill="#ffffff"/>
<rect x="598.00" y="734.72" width="2.40" height="32.04" fill="#ffffff"/>
<rect x="601.40" y="734.72" width="1.40" height="16.02" fill="#8f78e0"/>
<rect x="601.00" y="750.74" width="1.50" height="16.02" fill="#d9a0e8"/>
<rect x="603.00" y="718.70" width="1.00" height="48.06" fill="#ffffff"/>
<rect x="606.50" y="718.70" width="1.50" height="48.06" fill="#ffffff"/>
<rect x="611.50" y="734.72" width="1.50" height="16.02" fill="#f6e2b8"/>
<rect x="611.50" y="702.68" width="1.00" height="16.02" fill="#f0a8a0"/>
<rect x="73.70" y="766.76" width="537.80" height="13.24" fill="#35b9a0"/>
<rect x="103.80" y="766.76" width="185.90" height="13.24" fill="#d8efe0"/>
<rect x="610.80" y="558.50" width="178.20" height="16.02" fill="#e86a66"/>
<rect x="610.80" y="574.52" width="178.20" height="16.02" fill="#8570d4"/>
<rect x="610.80" y="590.54" width="178.20" height="16.02" fill="#7ba5f2"/>
<rect x="610.80" y="606.56" width="178.20" height="16.02" fill="#e3ac80"/>
<rect x="610.80" y="622.58" width="178.20" height="16.02" fill="#dc7b74"/>
<rect x="610.80" y="638.60" width="178.20" height="16.02" fill="#35b9a0"/>
<rect x="610.80" y="654.62" width="178.20" height="16.02" fill="#e8b75a"/>
<rect x="610.80" y="670.64" width="178.20" height="16.02" fill="#b0ccf2"/>
<rect x="610.80" y="686.66" width="178.20" height="16.02" fill="#35b9a0"/>
<rect x="613.15" y="558.50" width="1.30" height="64.08" fill="rgba(255,255,255,.82)"/>
<rect x="612.95" y="622.58" width="1.70" height="48.06" fill="rgba(255,255,255,.88)"/>
<rect x="612.80" y="670.64" width="2.00" height="32.04" fill="rgba(255,255,255,.9)"/>
<rect x="616.75" y="558.50" width="1.30" height="64.08" fill="rgba(255,255,255,.82)"/>
<rect x="616.55" y="622.58" width="1.70" height="48.06" fill="rgba(255,255,255,.88)"/>
<rect x="616.40" y="670.64" width="2.00" height="32.04" fill="rgba(255,255,255,.9)"/>
<rect x="623.95" y="558.50" width="1.30" height="64.08" fill="rgba(255,255,255,.82)"/>
<rect x="623.75" y="622.58" width="1.70" height="48.06" fill="rgba(255,255,255,.88)"/>
<rect x="623.60" y="670.64" width="2.00" height="32.04" fill="rgba(255,255,255,.9)"/>
<rect x="629.45" y="558.50" width="1.30" height="64.08" fill="rgba(255,255,255,.82)"/>
<rect x="629.25" y="622.58" width="1.70" height="48.06" fill="rgba(255,255,255,.88)"/>
<rect x="629.10" y="670.64" width="2.00" height="32.04" fill="rgba(255,255,255,.9)"/>
<rect x="635.35" y="558.50" width="1.30" height="64.08" fill="rgba(255,255,255,.82)"/>
<rect x="635.15" y="622.58" width="1.70" height="48.06" fill="rgba(255,255,255,.88)"/>
<rect x="635.00" y="670.64" width="2.00" height="32.04" fill="rgba(255,255,255,.9)"/>
<rect x="638.85" y="558.50" width="1.30" height="64.08" fill="rgba(255,255,255,.82)"/>
<rect x="638.65" y="622.58" width="1.70" height="48.06" fill="rgba(255,255,255,.88)"/>
<rect x="638.50" y="670.64" width="2.00" height="32.04" fill="rgba(255,255,255,.9)"/>
<rect x="640.55" y="558.50" width="1.30" height="64.08" fill="rgba(255,255,255,.82)"/>
<rect x="640.35" y="622.58" width="1.70" height="48.06" fill="rgba(255,255,255,.88)"/>
<rect x="640.20" y="670.64" width="2.00" height="32.04" fill="rgba(255,255,255,.9)"/>
<rect x="646.05" y="558.50" width="1.30" height="64.08" fill="rgba(255,255,255,.82)"/>
<rect x="645.85" y="622.58" width="1.70" height="48.06" fill="rgba(255,255,255,.88)"/>
<rect x="645.70" y="670.64" width="2.00" height="32.04" fill="rgba(255,255,255,.9)"/>
<rect x="651.35" y="558.50" width="1.30" height="64.08" fill="rgba(255,255,255,.82)"/>
<rect x="651.15" y="622.58" width="1.70" height="48.06" fill="rgba(255,255,255,.88)"/>
<rect x="651.00" y="670.64" width="2.00" height="32.04" fill="rgba(255,255,255,.9)"/>
<rect x="654.95" y="558.50" width="1.30" height="64.08" fill="rgba(255,255,255,.82)"/>
<rect x="654.75" y="622.58" width="1.70" height="48.06" fill="rgba(255,255,255,.88)"/>
<rect x="654.60" y="670.64" width="2.00" height="32.04" fill="rgba(255,255,255,.9)"/>
<rect x="663.05" y="558.50" width="1.30" height="64.08" fill="rgba(255,255,255,.82)"/>
<rect x="662.85" y="622.58" width="1.70" height="48.06" fill="rgba(255,255,255,.88)"/>
<rect x="662.70" y="670.64" width="2.00" height="32.04" fill="rgba(255,255,255,.9)"/>
<rect x="667.45" y="558.50" width="1.30" height="64.08" fill="rgba(255,255,255,.82)"/>
<rect x="667.25" y="622.58" width="1.70" height="48.06" fill="rgba(255,255,255,.88)"/>
<rect x="667.10" y="670.64" width="2.00" height="32.04" fill="rgba(255,255,255,.9)"/>
<rect x="670.95" y="558.50" width="1.30" height="64.08" fill="rgba(255,255,255,.82)"/>
<rect x="670.75" y="622.58" width="1.70" height="48.06" fill="rgba(255,255,255,.88)"/>
<rect x="670.60" y="670.64" width="2.00" height="32.04" fill="rgba(255,255,255,.9)"/>
<rect x="675.35" y="558.50" width="1.30" height="64.08" fill="rgba(255,255,255,.82)"/>
<rect x="675.15" y="622.58" width="1.70" height="48.06" fill="rgba(255,255,255,.88)"/>
<rect x="675.00" y="670.64" width="2.00" height="32.04" fill="rgba(255,255,255,.9)"/>
<rect x="680.95" y="558.50" width="1.30" height="64.08" fill="rgba(255,255,255,.82)"/>
<rect x="680.75" y="622.58" width="1.70" height="48.06" fill="rgba(255,255,255,.88)"/>
<rect x="680.60" y="670.64" width="2.00" height="32.04" fill="rgba(255,255,255,.9)"/>
<rect x="683.75" y="558.50" width="1.30" height="64.08" fill="rgba(255,255,255,.82)"/>
<rect x="683.55" y="622.58" width="1.70" height="48.06" fill="rgba(255,255,255,.88)"/>
<rect x="683.40" y="670.64" width="2.00" height="32.04" fill="rgba(255,255,255,.9)"/>
<rect x="692.75" y="558.50" width="1.30" height="64.08" fill="rgba(255,255,255,.82)"/>
<rect x="692.55" y="622.58" width="1.70" height="48.06" fill="rgba(255,255,255,.88)"/>
<rect x="692.40" y="670.64" width="2.00" height="32.04" fill="rgba(255,255,255,.9)"/>
<rect x="699.75" y="558.50" width="1.30" height="64.08" fill="rgba(255,255,255,.82)"/>
<rect x="699.55" y="622.58" width="1.70" height="48.06" fill="rgba(255,255,255,.88)"/>
<rect x="699.40" y="670.64" width="2.00" height="32.04" fill="rgba(255,255,255,.9)"/>
<rect x="703.35" y="558.50" width="1.30" height="64.08" fill="rgba(255,255,255,.82)"/>
<rect x="703.15" y="622.58" width="1.70" height="48.06" fill="rgba(255,255,255,.88)"/>
<rect x="703.00" y="670.64" width="2.00" height="32.04" fill="rgba(255,255,255,.9)"/>
<rect x="707.85" y="558.50" width="1.30" height="64.08" fill="rgba(255,255,255,.82)"/>
<rect x="707.65" y="622.58" width="1.70" height="48.06" fill="rgba(255,255,255,.88)"/>
<rect x="707.50" y="670.64" width="2.00" height="32.04" fill="rgba(255,255,255,.9)"/>
<rect x="715.85" y="558.50" width="1.30" height="64.08" fill="rgba(255,255,255,.82)"/>
<rect x="715.65" y="622.58" width="1.70" height="48.06" fill="rgba(255,255,255,.88)"/>
<rect x="715.50" y="670.64" width="2.00" height="32.04" fill="rgba(255,255,255,.9)"/>
<rect x="719.35" y="558.50" width="1.30" height="64.08" fill="rgba(255,255,255,.82)"/>
<rect x="719.15" y="622.58" width="1.70" height="48.06" fill="rgba(255,255,255,.88)"/>
<rect x="719.00" y="670.64" width="2.00" height="32.04" fill="rgba(255,255,255,.9)"/>
<rect x="723.55" y="558.50" width="1.30" height="64.08" fill="rgba(255,255,255,.82)"/>
<rect x="723.35" y="622.58" width="1.70" height="48.06" fill="rgba(255,255,255,.88)"/>
<rect x="723.20" y="670.64" width="2.00" height="32.04" fill="rgba(255,255,255,.9)"/>
<rect x="729.65" y="558.50" width="1.30" height="64.08" fill="rgba(255,255,255,.82)"/>
<rect x="729.45" y="622.58" width="1.70" height="48.06" fill="rgba(255,255,255,.88)"/>
<rect x="729.30" y="670.64" width="2.00" height="32.04" fill="rgba(255,255,255,.9)"/>
<rect x="737.75" y="558.50" width="1.30" height="64.08" fill="rgba(255,255,255,.82)"/>
<rect x="737.55" y="622.58" width="1.70" height="48.06" fill="rgba(255,255,255,.88)"/>
<rect x="737.40" y="670.64" width="2.00" height="32.04" fill="rgba(255,255,255,.9)"/>
<rect x="741.45" y="558.50" width="1.30" height="64.08" fill="rgba(255,255,255,.82)"/>
<rect x="741.25" y="622.58" width="1.70" height="48.06" fill="rgba(255,255,255,.88)"/>
<rect x="741.10" y="670.64" width="2.00" height="32.04" fill="rgba(255,255,255,.9)"/>
<rect x="745.95" y="558.50" width="1.30" height="64.08" fill="rgba(255,255,255,.82)"/>
<rect x="745.75" y="622.58" width="1.70" height="48.06" fill="rgba(255,255,255,.88)"/>
<rect x="745.60" y="670.64" width="2.00" height="32.04" fill="rgba(255,255,255,.9)"/>
<rect x="761.05" y="558.50" width="1.30" height="64.08" fill="rgba(255,255,255,.82)"/>
<rect x="760.85" y="622.58" width="1.70" height="48.06" fill="rgba(255,255,255,.88)"/>
<rect x="760.70" y="670.64" width="2.00" height="32.04" fill="rgba(255,255,255,.9)"/>
<rect x="767.75" y="558.50" width="1.30" height="64.08" fill="rgba(255,255,255,.82)"/>
<rect x="767.55" y="622.58" width="1.70" height="48.06" fill="rgba(255,255,255,.88)"/>
<rect x="767.40" y="670.64" width="2.00" height="32.04" fill="rgba(255,255,255,.9)"/>
<rect x="619.90" y="638.60" width="1.20" height="32.04" fill="rgba(255,255,255,.75)"/>
<rect x="619.80" y="670.64" width="1.40" height="32.04" fill="rgba(255,255,255,.85)"/>
<rect x="626.90" y="638.60" width="1.20" height="32.04" fill="rgba(255,255,255,.75)"/>
<rect x="626.80" y="670.64" width="1.40" height="32.04" fill="rgba(255,255,255,.85)"/>
<rect x="632.40" y="638.60" width="1.20" height="32.04" fill="rgba(255,255,255,.75)"/>
<rect x="632.30" y="670.64" width="1.40" height="32.04" fill="rgba(255,255,255,.85)"/>
<rect x="648.90" y="638.60" width="1.20" height="32.04" fill="rgba(255,255,255,.75)"/>
<rect x="648.80" y="670.64" width="1.40" height="32.04" fill="rgba(255,255,255,.85)"/>
<rect x="658.90" y="638.60" width="1.20" height="32.04" fill="rgba(255,255,255,.75)"/>
<rect x="658.80" y="670.64" width="1.40" height="32.04" fill="rgba(255,255,255,.85)"/>
<rect x="688.40" y="638.60" width="1.20" height="32.04" fill="rgba(255,255,255,.75)"/>
<rect x="688.30" y="670.64" width="1.40" height="32.04" fill="rgba(255,255,255,.85)"/>
<rect x="696.40" y="638.60" width="1.20" height="32.04" fill="rgba(255,255,255,.75)"/>
<rect x="696.30" y="670.64" width="1.40" height="32.04" fill="rgba(255,255,255,.85)"/>
<rect x="711.40" y="638.60" width="1.20" height="32.04" fill="rgba(255,255,255,.75)"/>
<rect x="711.30" y="670.64" width="1.40" height="32.04" fill="rgba(255,255,255,.85)"/>
<rect x="726.90" y="638.60" width="1.20" height="32.04" fill="rgba(255,255,255,.75)"/>
<rect x="726.80" y="670.64" width="1.40" height="32.04" fill="rgba(255,255,255,.85)"/>
<rect x="733.20" y="638.60" width="1.20" height="32.04" fill="rgba(255,255,255,.75)"/>
<rect x="733.10" y="670.64" width="1.40" height="32.04" fill="rgba(255,255,255,.85)"/>
<rect x="750.40" y="638.60" width="1.20" height="32.04" fill="rgba(255,255,255,.75)"/>
<rect x="750.30" y="670.64" width="1.40" height="32.04" fill="rgba(255,255,255,.85)"/>
<rect x="764.40" y="638.60" width="1.20" height="32.04" fill="rgba(255,255,255,.75)"/>
<rect x="764.30" y="670.64" width="1.40" height="32.04" fill="rgba(255,255,255,.85)"/>
<rect x="642.30" y="558.50" width="4.00" height="144.18" fill="rgba(255,255,255,.5)"/>
<rect x="735.40" y="558.50" width="2.20" height="144.18" fill="rgba(255,255,255,.5)"/>
<rect x="755.00" y="558.50" width="3.50" height="144.18" fill="rgba(255,255,255,.5)"/>
<rect x="771.70" y="558.50" width="3.30" height="144.18" fill="rgba(255,255,255,.5)"/>
<rect x="618.50" y="622.58" width="1.50" height="16.02" fill="rgba(255,255,255,.45)"/>
<rect x="633.00" y="622.58" width="1.50" height="16.02" fill="rgba(255,255,255,.45)"/>
<rect x="660.00" y="622.58" width="2.00" height="16.02" fill="rgba(255,255,255,.45)"/>
<rect x="689.00" y="622.58" width="2.50" height="16.02" fill="rgba(255,255,255,.45)"/>
<rect x="711.00" y="622.58" width="2.00" height="16.02" fill="rgba(255,255,255,.45)"/>
<rect x="749.00" y="622.58" width="2.00" height="16.02" fill="rgba(255,255,255,.45)"/>
<rect x="687.00" y="558.50" width="1.00" height="144.18" fill="rgba(255,255,255,.35)"/>
<rect x="727.00" y="558.50" width="1.00" height="144.18" fill="rgba(255,255,255,.35)"/>
<rect x="764.50" y="558.50" width="1.00" height="144.18" fill="rgba(255,255,255,.35)"/>
<rect x="64.60" y="40.50" width="2.10" height="739.50" fill="rgba(60,170,148,.6)"/>
<rect x="609.60" y="40.50" width="2.10" height="739.50" fill="rgba(60,170,148,.6)"/>
<rect x="-12.00" y="402.00" width="801.00" height="35.10" fill="url(#bg)"/>
</svg>
<b class="t" style="left:109.9px;top:2.0px;height:10.0px;line-height:10.0px;font-size:9px;color:#a0a0a0;font-weight:400;">2.0 s</b>
<b class="t" style="left:217.8px;top:2.0px;height:10.0px;line-height:10.0px;font-size:9px;color:#a0a0a0;font-weight:400;">4.0 s</b>
<b class="t" style="left:325.6px;top:2.0px;height:10.0px;line-height:10.0px;font-size:9px;color:#a0a0a0;font-weight:400;">6.0 s</b>
<b class="t" style="left:433.5px;top:2.0px;height:10.0px;line-height:10.0px;font-size:9px;color:#a0a0a0;font-weight:400;">8.0 s</b>
<b class="t" style="left:541.4px;top:2.0px;height:10.0px;line-height:10.0px;font-size:9px;color:#a0a0a0;font-weight:400;">10.0 s</b>
<b class="t" style="left:649.2px;top:2.0px;height:10.0px;line-height:10.0px;font-size:9px;color:#a0a0a0;font-weight:400;">12.0 s</b>
<b class="t" style="left:757.1px;top:2.0px;height:10.0px;line-height:10.0px;font-size:9px;color:#a0a0a0;font-weight:400;">14.0 s</b>
<i style="position:absolute;left:324px;top:7.3px;width:31px;height:10.5px;background:#fff"></i>
<b class="t" style="left:326.3px;top:9.5px;height:10.0px;line-height:10.0px;font-size:9px;color:#333;transform:scaleX(1.011);transform-origin:0 50%;">10.1 s</b>
<b class="t c" style="left:164.8px;top:80.5px;height:10.9px;line-height:10.9px;font-size:7px;color:#eef2e0;">R</b>
<b class="t c" style="left:175.0px;top:96.6px;height:10.9px;line-height:10.9px;font-size:7px;color:#eef2e0;">R</b>
<b class="t c" style="left:197.6px;top:96.6px;height:10.9px;line-height:10.9px;font-size:7px;color:#eef2e0;">Run...</b>
<b class="t c" style="left:172.6px;top:128.8px;height:10.9px;line-height:10.9px;font-size:7px;color:#eef2e0;">R</b>
<b class="t c" style="left:198.6px;top:128.8px;height:10.9px;line-height:10.9px;font-size:7px;color:#eef2e0;">Run...</b>
<b class="t c" style="left:174.8px;top:144.9px;height:10.9px;line-height:10.9px;font-size:7px;color:#eef2e0;">R</b>
<b class="t c" style="left:198.6px;top:144.9px;height:10.9px;line-height:10.9px;font-size:7px;color:#eef2e0;">Run...</b>
<b class="t c" style="left:164.6px;top:225.3px;height:10.9px;line-height:10.9px;font-size:7px;color:#eef2e0;">R</b>
<b class="t c" style="left:130.5px;top:257.4px;height:10.9px;line-height:10.9px;font-size:7px;color:#eef2e0;">R</b>
<b class="t" style="left:115.0px;top:271.2px;height:16.0px;line-height:16.0px;font-size:9.7px;color:#fff;transform:scaleX(0.973);transform-origin:0 50%;">H:HRESULT _XSAXParse(SAX2XM...</b>
<b class="t c" style="left:97.0px;top:391.2px;height:10.2px;line-height:10.2px;font-size:7px;color:#eef2e0;">R...</b>
<b class="t c" style="left:198.5px;top:391.2px;height:10.2px;line-height:10.2px;font-size:7px;color:#eef2e0;">Run...</b>
<b class="t c" style="left:335.0px;top:391.2px;height:10.2px;line-height:10.2px;font-size:7px;color:#eef2e0;">R...</b>
<b class="t c" style="left:385.0px;top:391.2px;height:10.2px;line-height:10.2px;font-size:7px;color:#eef2e0;">R</b>
<b class="t c" style="left:401.0px;top:391.2px;height:10.2px;line-height:10.2px;font-size:7px;color:#eef2e0;">R</b>
<b class="t c" style="left:421.8px;top:391.2px;height:10.2px;line-height:10.2px;font-size:7px;color:#eef2e0;">R</b>
<b class="t c" style="left:435.7px;top:391.2px;height:10.2px;line-height:10.2px;font-size:7px;color:#eef2e0;">R</b>
<b class="t c" style="left:450.0px;top:391.2px;height:10.2px;line-height:10.2px;font-size:7px;color:#eef2e0;">R</b>
<b class="t c" style="left:466.0px;top:391.2px;height:10.2px;line-height:10.2px;font-size:7px;color:#eef2e0;">R</b>
<b class="t c" style="left:493.3px;top:391.2px;height:10.2px;line-height:10.2px;font-size:7px;color:#eef2e0;">Runni...</b>
<b class="t c" style="left:528.3px;top:391.2px;height:10.2px;line-height:10.2px;font-size:7px;color:#eef2e0;">Run...</b>
<b class="t c" style="left:556.8px;top:391.2px;height:10.2px;line-height:10.2px;font-size:7px;color:#eef2e0;">Ru...</b>
<b class="t c" style="left:584.0px;top:391.2px;height:10.2px;line-height:10.2px;font-size:7px;color:#eef2e0;">Ru...</b>
<b class="t" style="left:79.8px;top:558.4px;height:16.0px;line-height:16.0px;font-size:9.7px;color:#fff;transform:scaleX(1.120);transform-origin:0 50%;">H:bool kso_qt::QEventLoop::processEvents(kso_qt...</b>
<b class="t" style="left:368.4px;top:558.4px;height:16.0px;line-height:16.0px;font-size:9.7px;color:#fff;transform:scaleX(1.015);transform-origin:0 50%;">H:...</b>
<b class="t" style="left:398.8px;top:558.4px;height:16.0px;line-height:16.0px;font-size:9.7px;color:#fff;transform:scaleX(1.099);transform-origin:0 50%;">H</b>
<b class="t" style="left:79.8px;top:574.4px;height:16.0px;line-height:16.0px;font-size:9.7px;color:#fff;transform:scaleX(1.137);transform-origin:0 50%;">H:virtual bool QOhosEventDispatcher::processEve...</b>
<b class="t" style="left:368.4px;top:574.4px;height:16.0px;line-height:16.0px;font-size:9.7px;color:#fff;transform:scaleX(1.015);transform-origin:0 50%;">H:...</b>
<b class="t" style="left:398.8px;top:574.4px;height:16.0px;line-height:16.0px;font-size:9.7px;color:#fff;transform:scaleX(1.099);transform-origin:0 50%;">H</b>
<b class="t" style="left:79.8px;top:590.4px;height:16.0px;line-height:16.0px;font-size:9.7px;color:#222;transform:scaleX(1.154);transform-origin:0 50%;">H:virtual bool kso_qt::QUnixEventDispatcherQPA:...</b>
<b class="t" style="left:368.4px;top:590.4px;height:16.0px;line-height:16.0px;font-size:9.7px;color:#222;transform:scaleX(1.015);transform-origin:0 50%;">H:...</b>
<b class="t" style="left:398.8px;top:590.4px;height:16.0px;line-height:16.0px;font-size:9.7px;color:#222;transform:scaleX(1.099);transform-origin:0 50%;">H</b>
<b class="t" style="left:79.8px;top:606.4px;height:16.0px;line-height:16.0px;font-size:9.7px;color:#222;transform:scaleX(1.156);transform-origin:0 50%;">H:virtual bool kso_qt::QEventDispatcherUNIX::pr...</b>
<b class="t" style="left:368.4px;top:606.4px;height:16.0px;line-height:16.0px;font-size:9.7px;color:#222;transform:scaleX(1.015);transform-origin:0 50%;">H:...</b>
<b class="t" style="left:398.8px;top:606.4px;height:16.0px;line-height:16.0px;font-size:9.7px;color:#222;transform:scaleX(1.099);transform-origin:0 50%;">H</b>
<b class="t" style="left:79.8px;top:622.4px;height:16.0px;line-height:16.0px;font-size:9.7px;color:#222;transform:scaleX(1.147);transform-origin:0 50%;">H:static void kso_qt::QCoreApplicationPrivate::...</b>
<b class="t" style="left:368.4px;top:622.4px;height:16.0px;line-height:16.0px;font-size:9.7px;color:#222;transform:scaleX(1.015);transform-origin:0 50%;">H:...</b>
<b class="t" style="left:398.8px;top:622.4px;height:16.0px;line-height:16.0px;font-size:9.7px;color:#222;transform:scaleX(1.099);transform-origin:0 50%;">H</b>
<b class="t" style="left:79.8px;top:638.5px;height:16.0px;line-height:16.0px;font-size:9.7px;color:#222;transform:scaleX(1.144);transform-origin:0 50%;">H:static bool kso_qt::QCoreApplication::s...</b>
<b class="t" style="left:335.4px;top:638.5px;height:16.0px;line-height:16.0px;font-size:9.7px;color:#222;transform:scaleX(1.070);transform-origin:0 50%;">H:...</b>
<b class="t" style="left:378.7px;top:638.5px;height:16.0px;line-height:16.0px;font-size:9.7px;color:#222;transform:scaleX(1.028);transform-origin:0 50%;">H</b>
<b class="t" style="left:401.0px;top:638.5px;height:16.0px;line-height:16.0px;font-size:8.5px;color:#222;transform:scaleX(0.749);transform-origin:0 50%;font-weight:400;">H</b>
<b class="t" style="left:79.8px;top:654.5px;height:16.0px;line-height:16.0px;font-size:9.7px;color:#fff;transform:scaleX(1.141);transform-origin:0 50%;">H:static bool kso_qt::QCoreApplication::n...</b>
<b class="t" style="left:335.4px;top:654.5px;height:16.0px;line-height:16.0px;font-size:9.7px;color:#fff;transform:scaleX(1.070);transform-origin:0 50%;">H:...</b>
<b class="t" style="left:378.7px;top:654.5px;height:16.0px;line-height:16.0px;font-size:9.7px;color:#fff;transform:scaleX(1.028);transform-origin:0 50%;">H</b>
<b class="t" style="left:401.0px;top:654.5px;height:16.0px;line-height:16.0px;font-size:8.5px;color:#fff;transform:scaleX(0.749);transform-origin:0 50%;font-weight:400;">H</b>
<b class="t" style="left:79.8px;top:670.5px;height:16.0px;line-height:16.0px;font-size:9.7px;color:#222;transform:scaleX(1.156);transform-origin:0 50%;">H:virtual bool KPromeApplication::notify(...</b>
<b class="t" style="left:335.4px;top:670.5px;height:16.0px;line-height:16.0px;font-size:9.7px;color:#222;transform:scaleX(1.070);transform-origin:0 50%;">H:...</b>
<b class="t" style="left:378.7px;top:670.5px;height:16.0px;line-height:16.0px;font-size:9.7px;color:#222;transform:scaleX(1.028);transform-origin:0 50%;">H</b>
<b class="t" style="left:401.0px;top:670.5px;height:16.0px;line-height:16.0px;font-size:8.5px;color:#222;transform:scaleX(0.749);transform-origin:0 50%;font-weight:400;">H</b>
<b class="t" style="left:79.8px;top:686.5px;height:16.0px;line-height:16.0px;font-size:9.7px;color:#222;transform:scaleX(1.172);transform-origin:0 50%;">H:virtual bool KCoreApplication::notify(k...</b>
<b class="t" style="left:335.4px;top:686.5px;height:16.0px;line-height:16.0px;font-size:9.7px;color:#222;transform:scaleX(1.070);transform-origin:0 50%;">H:...</b>
<b class="t" style="left:378.7px;top:686.5px;height:16.0px;line-height:16.0px;font-size:9.7px;color:#222;transform:scaleX(1.028);transform-origin:0 50%;">H</b>
<b class="t" style="left:401.0px;top:686.5px;height:16.0px;line-height:16.0px;font-size:8.5px;color:#222;transform:scaleX(0.749);transform-origin:0 50%;font-weight:400;">H</b>
<b class="t" style="left:79.8px;top:702.5px;height:16.0px;line-height:16.0px;font-size:9.7px;color:#fff;transform:scaleX(1.156);transform-origin:0 50%;">H:bool kso_qt::QApplicationPrivate::notif...</b>
<b class="t" style="left:335.4px;top:702.5px;height:16.0px;line-height:16.0px;font-size:9.7px;color:#fff;transform:scaleX(1.070);transform-origin:0 50%;">H:...</b>
<b class="t" style="left:378.7px;top:702.5px;height:16.0px;line-height:16.0px;font-size:9.7px;color:#fff;transform:scaleX(1.028);transform-origin:0 50%;">H</b>
<b class="t" style="left:401.0px;top:702.5px;height:16.0px;line-height:16.0px;font-size:8.5px;color:#fff;transform:scaleX(0.749);transform-origin:0 50%;font-weight:400;">H</b>
<b class="t" style="left:476.8px;top:558.4px;height:16.0px;line-height:16.0px;font-size:9.7px;color:#fff;transform:scaleX(1.119);transform-origin:0 50%;">H:bool ks...</b>
<b class="t" style="left:546.6px;top:558.4px;height:16.0px;line-height:16.0px;font-size:9.7px;color:#fff;transform:scaleX(1.044);transform-origin:0 50%;">H:bool...</b>
<b class="t" style="left:476.8px;top:574.4px;height:16.0px;line-height:16.0px;font-size:9.7px;color:#fff;transform:scaleX(1.149);transform-origin:0 50%;">H:virtual...</b>
<b class="t" style="left:546.6px;top:574.4px;height:16.0px;line-height:16.0px;font-size:9.7px;color:#fff;transform:scaleX(1.137);transform-origin:0 50%;">H:virt...</b>
<b class="t" style="left:476.8px;top:590.4px;height:16.0px;line-height:16.0px;font-size:9.7px;color:#222;transform:scaleX(1.149);transform-origin:0 50%;">H:virtual...</b>
<b class="t" style="left:546.6px;top:590.4px;height:16.0px;line-height:16.0px;font-size:9.7px;color:#222;transform:scaleX(1.137);transform-origin:0 50%;">H:virt...</b>
<b class="t" style="left:476.8px;top:606.4px;height:16.0px;line-height:16.0px;font-size:9.7px;color:#222;transform:scaleX(1.149);transform-origin:0 50%;">H:virtual...</b>
<b class="t" style="left:546.6px;top:606.4px;height:16.0px;line-height:16.0px;font-size:9.7px;color:#222;transform:scaleX(1.137);transform-origin:0 50%;">H:virt...</b>
<b class="t" style="left:476.8px;top:622.4px;height:16.0px;line-height:16.0px;font-size:9.7px;color:#222;transform:scaleX(1.122);transform-origin:0 50%;">H:static ...</b>
<b class="t" style="left:546.6px;top:622.4px;height:16.0px;line-height:16.0px;font-size:9.7px;color:#222;transform:scaleX(1.110);transform-origin:0 50%;">H:stat...</b>
<b class="t" style="left:476.8px;top:638.5px;height:16.0px;line-height:16.0px;font-size:9.7px;color:#222;transform:scaleX(1.122);transform-origin:0 50%;">H:static ...</b>
<b class="t" style="left:546.6px;top:638.5px;height:16.0px;line-height:16.0px;font-size:9.7px;color:#222;transform:scaleX(1.110);transform-origin:0 50%;">H:stat...</b>
<b class="t" style="left:476.8px;top:654.5px;height:16.0px;line-height:16.0px;font-size:9.7px;color:#fff;transform:scaleX(1.122);transform-origin:0 50%;">H:static ...</b>
<b class="t" style="left:546.6px;top:654.5px;height:16.0px;line-height:16.0px;font-size:9.7px;color:#fff;transform:scaleX(1.110);transform-origin:0 50%;">H:stat...</b>
<b class="t" style="left:476.8px;top:670.5px;height:16.0px;line-height:16.0px;font-size:9.7px;color:#222;transform:scaleX(1.149);transform-origin:0 50%;">H:virtual...</b>
<b class="t" style="left:546.6px;top:670.5px;height:16.0px;line-height:16.0px;font-size:9.7px;color:#222;transform:scaleX(1.137);transform-origin:0 50%;">H:virt...</b>
<b class="t" style="left:476.8px;top:686.5px;height:16.0px;line-height:16.0px;font-size:9.7px;color:#222;transform:scaleX(1.149);transform-origin:0 50%;">H:virtual...</b>
<b class="t" style="left:546.6px;top:686.5px;height:16.0px;line-height:16.0px;font-size:9.7px;color:#222;transform:scaleX(1.137);transform-origin:0 50%;">H:virt...</b>
<b class="t" style="left:476.8px;top:702.5px;height:16.0px;line-height:16.0px;font-size:9.7px;color:#fff;transform:scaleX(1.119);transform-origin:0 50%;">H:bool ks...</b>
<b class="t" style="left:546.6px;top:702.5px;height:16.0px;line-height:16.0px;font-size:9.7px;color:#fff;transform:scaleX(1.044);transform-origin:0 50%;">H:bool...</b>
<b class="t" style="left:478.0px;top:718.6px;height:16.0px;line-height:16.0px;font-size:9.7px;color:#fff;transform:scaleX(1.122);transform-origin:0 50%;">H:static ...</b>
<b class="t" style="left:546.6px;top:718.6px;height:16.0px;line-height:16.0px;font-size:9.7px;color:#fff;transform:scaleX(1.110);transform-origin:0 50%;">H:stat...</b>
<b class="t" style="left:478.0px;top:734.6px;height:16.0px;line-height:16.0px;font-size:9.7px;color:#222;transform:scaleX(1.149);transform-origin:0 50%;">H:virtual...</b>
<b class="t" style="left:546.6px;top:734.6px;height:16.0px;line-height:16.0px;font-size:9.7px;color:#222;transform:scaleX(1.137);transform-origin:0 50%;">H:virt...</b>
<b class="t" style="left:478.0px;top:750.6px;height:16.0px;line-height:16.0px;font-size:9.7px;color:#222;transform:scaleX(1.149);transform-origin:0 50%;">H:virtual...</b>
<b class="t" style="left:546.6px;top:750.6px;height:16.0px;line-height:16.0px;font-size:9.7px;color:#222;transform:scaleX(1.137);transform-origin:0 50%;">H:virt...</b>
<b class="t" style="left:84.0px;top:718.6px;height:16.0px;line-height:16.0px;font-size:9.7px;color:#fff;transform:scaleX(1.168);transform-origin:0 50%;">H:virtual bool KxApplication::addMainWin...</b>
<b class="t" style="left:109.5px;top:734.6px;height:16.0px;line-height:16.0px;font-size:9.7px;color:#222;transform:scaleX(1.112);transform-origin:0 50%;">H:virtual HRESULT KWPresentat...</b>
<b class="t" style="left:109.5px;top:750.6px;height:16.0px;line-height:16.0px;font-size:9.7px;color:#222;transform:scaleX(1.112);transform-origin:0 50%;">H:virtual HRESULT KWPresentat...</b>
</div></div></div></body></html>
